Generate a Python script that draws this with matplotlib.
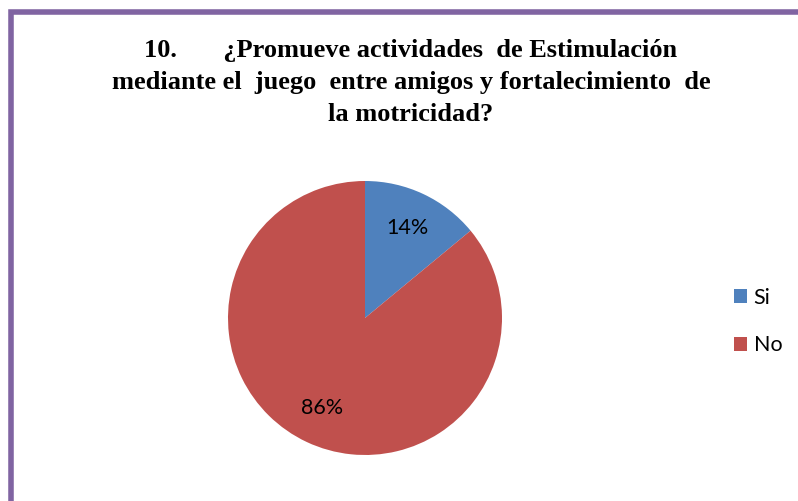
import matplotlib.pyplot as plt
from matplotlib.patches import Rectangle

labels = ["Si", "No"]
values = [14, 86]
colors = ["#4F81BD", "#C0504D"]
title = ("10.       ¿Promueve actividades  de Estimulación\n"
         "mediante el  juego  entre amigos y fortalecimiento  de\n"
         "la motricidad?")

fig = plt.figure(figsize=(7.98, 5.01), dpi=100)

# purple chart frame (left and top edges visible)
fig.patches.append(Rectangle((10.5 / 798, -0.1), 1.2, (501 - 11.5) / 501 + 0.1,
                             transform=fig.transFigure, fill=False,
                             edgecolor="#8064A2", linewidth=4))

fig.text(411 / 798, 1 - 82.5 / 501, title, ha="center", va="center",
         multialignment="center", fontsize=19, fontweight="bold",
         family="Liberation Serif", linespacing=1.48)

ax = fig.add_axes([228 / 798, 46 / 501, 274 / 798, 274 / 501])
wedges, texts, autotexts = ax.pie(values, colors=colors, startangle=90,
                                  counterclock=False, autopct="%1.0f%%",
                                  pctdistance=0.73,
                                  textprops={"fontsize": 15.5, "family": "Lato"})
ax.set_xlim(-1, 1)
ax.set_ylim(-1, 1)
ax.set_aspect("auto")

fig.legend(wedges, labels, loc="center left",
           bbox_to_anchor=(715 / 798, 1 - 321.5 / 501), frameon=False,
           prop={"family": "Lato", "size": 15.5},
           handlelength=0.6, handleheight=0.6, handletextpad=0.3,
           labelspacing=1.3)

fig.savefig("out.png", dpi=100)
